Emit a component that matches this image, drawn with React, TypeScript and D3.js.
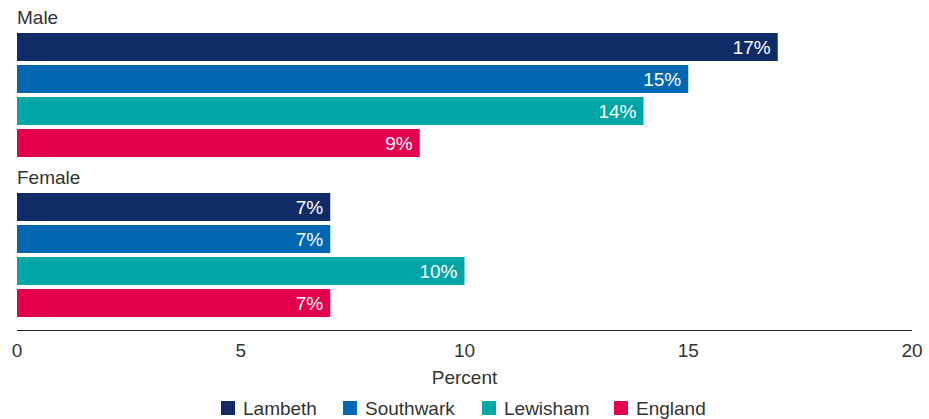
import React from "react";
import * as d3 from "d3";

const groups = ["Male", "Female"];
const series = ["Lambeth", "Southwark", "Lewisham", "England"];
const maleValues = [17, 15, 14, 9];
const femaleValues = [7, 7, 10, 7];
const xTicks = [0, 5, 10, 15, 20];
const colors = ["#112b66", "#0068b3", "#00a6a7", "#e4004f"];

const W = 929;
const H = 419;
const FONT = "'Liberation Sans', Arial, Helvetica, sans-serif";
const TEXT = "#333333";
const FS = 19;

export default function App() {
  const x = d3.scaleLinear().domain([0, 20]).range([17, 912]);
  const gy = d3.scaleBand<string>().domain(groups).range([31, 351]).paddingInner(0).paddingOuter(0);
  const by = d3
    .scaleBand<string>()
    .domain(series)
    .range([0, 128])
    .paddingInner(0.125)
    .paddingOuter(0.0625);
  const color = d3.scaleOrdinal<string, string>().domain(series).range(colors);
  const values: Record<string, number[]> = { Male: maleValues, Female: femaleValues };

  const legendX = [221, 343, 482, 614];

  return (
    <svg width={W} height={H} style={{ position: "absolute", left: 0, top: 0 }} fontFamily={FONT}>
      {groups.map((g) => {
        const top = gy(g)!;
        return (
          <g key={g}>
            <text x={17} y={top - 7} fontSize={FS} fill={TEXT}>
              {g}
            </text>
            {series.map((s, i) => {
              const v = values[g][i];
              const y0 = top + by(s)!;
              return (
                <g key={s}>
                  <rect x={x(0)} y={y0} width={x(v) - x(0)} height={by.bandwidth()} fill={color(s)} />
                  <text
                    x={x(v) - 7}
                    y={y0 + by.bandwidth() / 2}
                    dy="0.35em"
                    textAnchor="end"
                    fontSize={FS}
                    fill="#ffffff"
                  >
                    {v}%
                  </text>
                </g>
              );
            })}
          </g>
        );
      })}
      <line x1={x(0)} x2={x(20)} y1={330.5} y2={330.5} stroke="#222" strokeWidth={1} />
      {xTicks.map((t) => (
        <text key={t} x={x(t)} y={350} dy="0.35em" textAnchor="middle" fontSize={FS} fill={TEXT}>
          {t}
        </text>
      ))}
      <text x={(x(0) + x(20)) / 2} y={377} dy="0.35em" textAnchor="middle" fontSize={FS} fill={TEXT}>
        Percent
      </text>
      {series.map((s, i) => (
        <g key={s} transform={`translate(${legendX[i]},0)`}>
          <rect x={0} y={401} width={14} height={14} fill={color(s)} />
          <text x={22} y={408} dy="0.35em" fontSize={FS} fill={TEXT}>
            {s}
          </text>
        </g>
      ))}
    </svg>
  );
}
